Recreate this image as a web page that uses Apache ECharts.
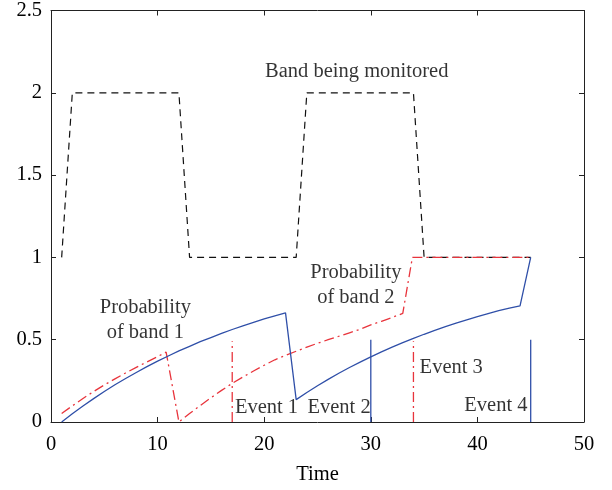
<!DOCTYPE html>
<html><head><meta charset="utf-8">
<script src="https://cdn.jsdelivr.net/npm/echarts@6/dist/echarts.min.js"></script>
<style>html,body{margin:0;padding:0;background:#fff}#c{width:612px;height:490px}</style>
</head><body><div id="c"></div>
<script>
// Band being monitored (black dashed)
const bandTime  = [1, 2, 12, 13, 23, 24, 34, 35, 45];
const bandValue = [1, 2, 2, 1, 1, 2, 2, 1, 1];
// Probability of band 1 (blue solid)
const prob1Time  = [1,2,3,4,5,6,7,8,9,10,11,12,13,14,15,16,17,18,19,20,21,22,23,24,25,26,27,28,29,30,31,32,33,34,35,36,37,38,39,40,41,42,43,44,45];
const prob1Value = [0,0.050,0.097,0.142,0.185,0.226,0.264,0.301,0.336,0.370,0.401,0.432,0.460,0.488,0.513,0.538,0.562,0.584,0.605,0.626,0.645,0.663,
                    0.136,0.179,0.220,0.259,0.296,0.331,0.364,0.396,0.426,0.455,0.482,0.508,0.533,0.557,0.579,0.600,0.621,0.640,0.658,0.676,0.692,0.706,1.0];
// Probability of band 2 (red dash-dot)
const prob2Time  = [1,2,3,4,5,6,7,8,9,10,10.8,12,13,14,15,16,17,18,19,20,21,22,23,24,25,26,27,28,29,30,31,32,33,33.9,45];
const prob2Value = [0.052,0.098,0.143,0.185,0.225,0.262,0.298,0.332,0.365,0.397,0.425,0,0.051,0.100,0.147,0.192,0.235,0.273,0.310,0.345,0.378,0.405,0.430,0.455,0.478,0.500,0.521,0.542,0.563,0.590,0.612,0.635,0.660,1.0,1.0];
// Events
const redEventTimes  = [17, 34];
const redEventHeight = 0.49;
const blueEventTimes = [30, 45];
const blueEventHeight = 0.5;
// Annotations [text, x, y, align]
const annotations = [
  ['Band being monitored', 28.68, 2.13, 'center'],
  ['Probability\nof band 1', 8.85, 0.62, 'center'],
  ['Probability\nof band 2', 28.6, 0.83, 'center'],
  ['Event 1', 17.25, 0.09, 'left'],
  ['Event 2', 24.06, 0.09, 'left'],
  ['Event 3', 34.58, 0.33, 'left'],
  ['Event 4', 44.7, 0.10, 'right']
];
const xTicks = {min: 0, max: 50, interval: 10};
const yTicks = {min: 0, max: 2.5, interval: 0.5};

const FONT = 'Liberation Serif';
const BLUE = '#2f4fa8';
const RED = '#e8343c';
const zip = (a, b) => a.map((t, i) => [t, b[i]]);

const series = [
  {type:'line', data: zip(bandTime, bandValue), symbol:'none', lineStyle:{color:'#111', width:1.2, type:[7,5]}, z:3},
  {type:'line', data: zip(prob2Time, prob2Value), symbol:'none', lineStyle:{color:RED, width:1.3, type:[10,4,2,4]}, z:4},
  {type:'line', data: zip(prob1Time, prob1Value), symbol:'none', lineStyle:{color:BLUE, width:1.3}, z:5}
];
redEventTimes.forEach(t => series.push({type:'line', data:[[t,0],[t,redEventHeight]], symbol:'none', lineStyle:{color:RED, width:1.3, type:[10,4,2,4]}}));
blueEventTimes.forEach(t => series.push({type:'line', data:[[t,0],[t,blueEventHeight]], symbol:'none', lineStyle:{color:BLUE, width:1.3}}));
series.push({
  type:'scatter', symbolSize:0, silent:true, z:10,
  data: annotations.map(a => ({value:[a[1], a[2]], label:{show:true, formatter:a[0], position:'inside', align:a[3], verticalAlign:'middle', fontFamily:FONT, fontSize:20.5, color:'#000', lineHeight:25}}))
});

const axisCommon = {
  type:'value', splitLine:{show:false},
  axisLine:{show:true, onZero:false, lineStyle:{color:'#222', width:1}},
  axisTick:{show:true, inside:true, length:5, lineStyle:{color:'#222'}},
};
const option = {
  animation:false,
  backgroundColor:'#fff',
  grid:{left:51, right:28, top:6, bottom:63, containLabel:false},
  xAxis:[
    Object.assign({}, axisCommon, xTicks, {position:'bottom', name:'Time', nameLocation:'middle', nameGap:42,
      nameTextStyle:{fontFamily:FONT, fontSize:20.5, color:'#000'},
      axisLabel:{fontFamily:FONT, fontSize:20.5, color:'#000', margin:12}}),
    Object.assign({}, axisCommon, xTicks, {position:'top', axisLabel:{show:false}})
  ],
  yAxis:[
    Object.assign({}, axisCommon, yTicks, {position:'left', axisLabel:{fontFamily:FONT, fontSize:20.5, color:'#000', margin:9}}),
    Object.assign({}, axisCommon, yTicks, {position:'right', axisLabel:{show:false}})
  ],
  series: series
};
const chart = echarts.init(document.getElementById('c'), null, {renderer:'canvas'});
chart.setOption(option);
</script></body></html>
